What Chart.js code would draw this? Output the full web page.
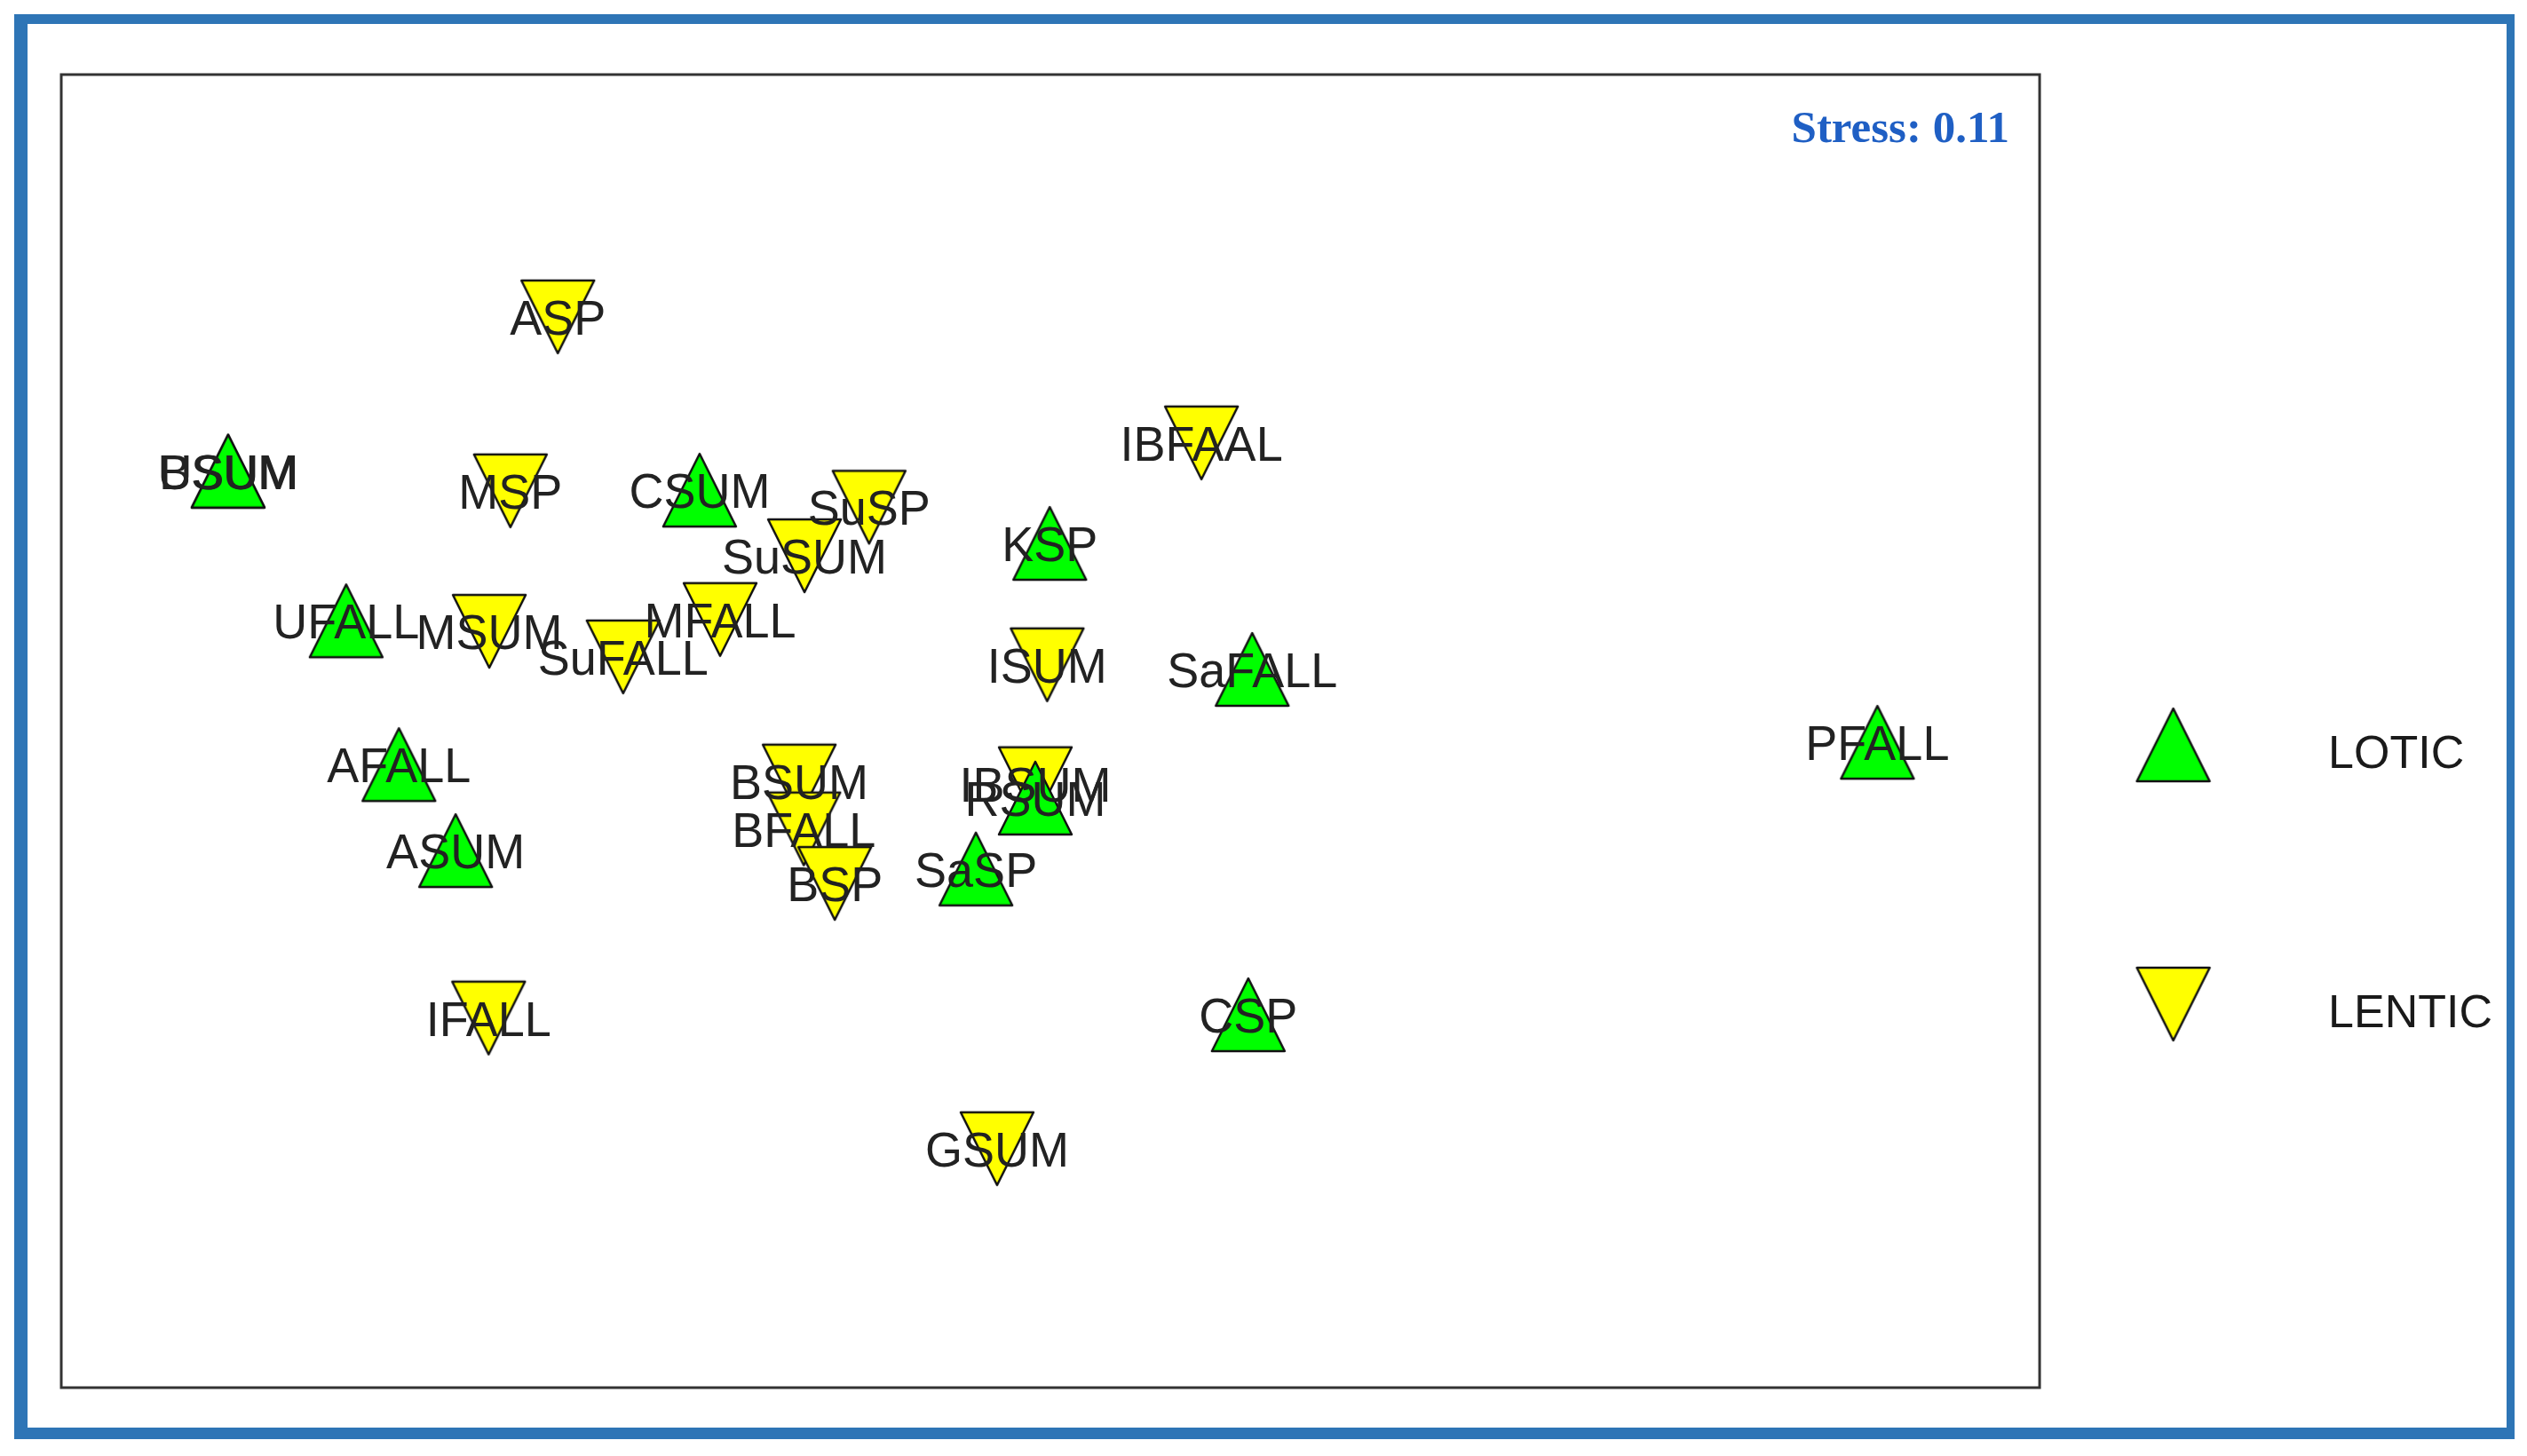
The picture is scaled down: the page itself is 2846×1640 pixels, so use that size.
<!DOCTYPE html>
<html>
<head>
<meta charset="utf-8">
<script src="https://cdn.jsdelivr.net/npm/chart.js@4.4.1/dist/chart.umd.min.js"></script>
<style>
html,body{margin:0;padding:0;background:#ffffff;}
#wrap{position:relative;width:2846px;height:1640px;overflow:hidden;background:#ffffff;}
#frame{position:absolute;left:16px;top:16px;width:2816px;height:1605px;box-sizing:border-box;border-style:solid;border-color:#2E75B6;border-width:11px 9px 13px 15px;}
#c{position:absolute;left:0;top:0;}
</style>
</head>
<body>
<div id="wrap"><div id="frame"></div><canvas id="c" width="2846" height="1640"></canvas></div>
<script>
// ---- data (NMDS site scores) ----
const groupLabels = ['LOTIC', 'LENTIC'];
const loticNames = ['BSUM', 'USUM', 'CSUM', 'KSP', 'UFALL', 'SaFALL', 'AFALL', 'RSUM', 'SaSP', 'ASUM', 'CSP', 'PFALL'];
const loticX     = [-0.747, -0.747, -0.032, 0.499, -0.568, 0.806, -0.488, 0.477, 0.387, -0.402, 0.800, 1.754];
const loticY     = [ 0.396,  0.396,  0.367, 0.286,  0.168, 0.094, -0.051, -0.102, -0.210, -0.182, -0.432, -0.017];
const lenticNames = ['ASP', 'MSP', 'IBFAAL', 'SuSP', 'SuSUM', 'MSUM', 'SuFALL', 'MFALL', 'ISUM', 'BSUM', 'BFALL', 'BSP', 'IBSUM', 'IFALL', 'GSUM'];
const lenticX     = [-0.247, -0.319, 0.729, 0.225, 0.127, -0.351, -0.148, -0.001, 0.495, 0.119, 0.126, 0.173, 0.477, -0.352, 0.419];
const lenticY     = [ 0.631,  0.366, 0.439, 0.341, 0.267,  0.152,  0.113,  0.170, 0.101, -0.076, -0.149, -0.232, -0.080, -0.437, -0.636];
const stressText = 'Stress: 0.11';
const xRange = [-1, 2];
const yRange = [-1, 1];

// ---- marker images (R-style filled triangles with black outline) ----
function makeTri(fill, down, canvasH, offsetY) {
  const c = document.createElement('canvas');
  c.width = 92; c.height = canvasH;
  const g = c.getContext('2d');
  const cx = 46, cy = canvasH / 2 + offsetY, h = 41;
  g.beginPath();
  if (!down) { g.moveTo(cx, cy - h); g.lineTo(cx + h, cy + h); g.lineTo(cx - h, cy + h); }
  else { g.moveTo(cx - h, cy - h); g.lineTo(cx + h, cy - h); g.lineTo(cx, cy + h); }
  g.closePath();
  g.fillStyle = fill; g.fill();
  g.lineWidth = 2.5; g.lineJoin = 'round'; g.strokeStyle = '#111'; g.stroke();
  return c;
}
const GREEN = '#00FF00', YELLOW = '#FFFF00';
const upTri = makeTri(GREEN, false, 92, 0);
const downTri = makeTri(YELLOW, true, 92, 0);
const legendIcons = [makeTri(GREEN, false, 116, -12), makeTri(YELLOW, true, 116, -12)];

const toPoints = (names, xs, ys) => names.map((n, i) => ({x: xs[i], y: ys[i], name: n}));

// ---- plugin: plot frame, site labels and stress annotation ----
const annotatePlugin = {
  id: 'annotate',
  beforeDatasetsDraw(chart) {
    const {ctx, chartArea: a} = chart;
    ctx.save();
    ctx.lineWidth = 3; ctx.strokeStyle = '#333';
    ctx.strokeRect(a.left, a.top, a.right - a.left, a.bottom - a.top);
    ctx.restore();
  },
  afterDatasetsDraw(chart) {
    const {ctx, chartArea: a} = chart;
    ctx.save();
    const fs = 54;
    ctx.font = fs + 'px "Liberation Sans", Arial, sans-serif';
    ctx.fillStyle = '#222';
    ctx.textAlign = 'center';
    ctx.textBaseline = 'alphabetic';
    chart.data.datasets.forEach((ds, i) => {
      const meta = chart.getDatasetMeta(i);
      meta.data.forEach((pt, j) => {
        ctx.save();
        ctx.translate(pt.x, pt.y);
        ctx.scale(1, 1.04);
        ctx.fillText(ds.data[j].name, 0, 0.358 * fs);
        ctx.restore();
      });
    });
    ctx.font = 'bold 51px "Liberation Serif", "Times New Roman", serif';
    ctx.fillStyle = '#1F5FC4';
    ctx.textAlign = 'right';
    ctx.fillText(stressText, a.right - 34, a.top + 76);
    ctx.restore();
  }
};

new Chart(document.getElementById('c'), {
  type: 'scatter',
  data: {
    datasets: [
      { label: groupLabels[0], data: toPoints(loticNames, loticX, loticY),
        pointStyle: upTri, pointRadius: 40, backgroundColor: GREEN, borderColor: '#111' },
      { label: groupLabels[1], data: toPoints(lenticNames, lenticX, lenticY),
        pointStyle: downTri, pointRadius: 40, backgroundColor: YELLOW, borderColor: '#111' }
    ]
  },
  options: {
    responsive: false,
    devicePixelRatio: 1,
    animation: false,
    events: [],
    layout: { padding: { left: 69, top: 84, right: 29, bottom: 77 } },
    scales: {
      x: { type: 'linear', min: xRange[0], max: xRange[1], display: false },
      y: { type: 'linear', min: yRange[0], max: yRange[1], display: false }
    },
    plugins: {
      tooltip: { enabled: false },
      legend: {
        position: 'right',
        align: 'start',
        title: { display: true, text: '', font: { size: 1, lineHeight: 1 }, padding: { top: 0, bottom: 738 } },
        labels: {
          usePointStyle: true,
          pointStyleWidth: 297,
          padding: 2,
          color: '#1a1a1a',
          font: { family: '"Liberation Sans", Arial, sans-serif', size: 52, lineHeight: 290 / 52 },
          generateLabels: (chart) => chart.data.datasets.map((ds, i) => ({
            text: [ds.label],
            fillStyle: ds.backgroundColor,
            strokeStyle: '#111',
            lineWidth: 2,
            pointStyle: legendIcons[i],
            hidden: false,
            datasetIndex: i,
            fontColor: '#1a1a1a'
          }))
        }
      }
    }
  },
  plugins: [annotatePlugin]
});
</script>
</body>
</html>
